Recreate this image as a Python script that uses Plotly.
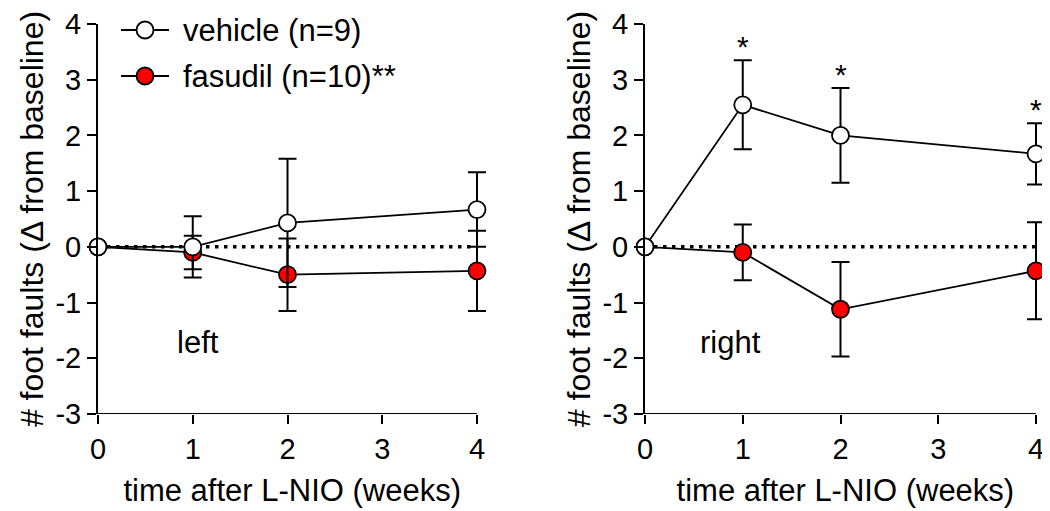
import plotly.graph_objects as go

weeks = [0, 1, 2, 4]
x_ticks = [0, 1, 2, 3, 4]
y_ticks = [-3, -2, -1, 0, 1, 2, 3, 4]
y_tick_labels = ["-3", "-2", "-1", "0", "1", "2", "3", "4"]

left_vehicle = [0, 0.0, 0.43, 0.67]
left_vehicle_err = [0, 0.55, 1.15, 0.67]
left_fasudil = [0, -0.1, -0.5, -0.43]
left_fasudil_err = [0, 0.3, 0.65, 0.72]

right_vehicle = [0, 2.55, 2.0, 1.67]
right_vehicle_err = [0, 0.8, 0.85, 0.55]
right_fasudil = [0, -0.1, -1.12, -0.43]
right_fasudil_err = [0, 0.5, 0.85, 0.87]

star_weeks = [1, 2, 4]

series_names = ["vehicle (n=9)", "fasudil (n=10)**"]
series_colors = ["white", "#ff0000"]

FONT = "Liberation Sans, Arial, sans-serif"
XMAX = 4.1
W, H = 1050, 511
OFF = 8  # page body margin

def px(X):
    return (X - OFF) / W

def py(Y):
    return 1 - (Y - OFF) / H

fig = go.Figure()

def add(x, y, err, color, name, xa, ya):
    fig.add_trace(go.Scatter(
        x=x, y=y, mode="lines+markers", name=name, xaxis=xa, yaxis=ya,
        showlegend=False, cliponaxis=False,
        line=dict(color="black", width=1.8),
        marker=dict(size=17, color=color, line=dict(color="black", width=1.8)),
        error_y=dict(type="data", array=err, visible=True, color="black",
                     thickness=2, width=9),
    ))

add(weeks, left_fasudil, left_fasudil_err, series_colors[1], series_names[1], "x", "y")
add(weeks, left_vehicle, left_vehicle_err, series_colors[0], series_names[0], "x", "y")
add(weeks, right_fasudil, right_fasudil_err, series_colors[1], series_names[1], "x2", "y2")
add(weeks, right_vehicle, right_vehicle_err, series_colors[0], series_names[0], "x2", "y2")

tick_common = dict(ticks="outside", ticklen=9, tickwidth=2, tickcolor="black",
                   showgrid=False, zeroline=False, automargin=False,
                   tickfont=dict(family=FONT, size=29, color="black"))
xaxis_common = dict(range=[0, XMAX], tickvals=x_ticks, showline=False,
                    title=dict(text="time after L-NIO (weeks)",
                               font=dict(family=FONT, size=31, color="black"), standoff=15),
                    **tick_common)
yaxis_common = dict(range=[-3, 4], tickvals=y_ticks, ticktext=y_tick_labels,
                    showline=True, linecolor="black", linewidth=2,
                    title=dict(text="# foot faults (\u0394 from baseline)",
                               font=dict(family=FONT, size=32, color="black"), standoff=2),
                    **tick_common)

y_dom = [py(414), py(24)]
fig.update_layout(
    width=W, height=H, paper_bgcolor="white", plot_bgcolor="white",
    margin=dict(l=0, r=0, t=0, b=0),
    font=dict(family=FONT, color="black"),
    xaxis=dict(domain=[px(98), px(98 + 379 * XMAX / 4)], anchor="y", **xaxis_common),
    yaxis=dict(domain=y_dom, anchor="x", **yaxis_common),
    xaxis2=dict(domain=[px(645), px(645 + 391 * XMAX / 4)], anchor="y2", **xaxis_common),
    yaxis2=dict(domain=y_dom, anchor="x2", **yaxis_common),
    showlegend=False,
)

for xr, yr in (("x", "y"), ("x2", "y2")):
    fig.add_shape(type="line", xref=xr, yref=yr, x0=0, x1=4, y0=0, y1=0,
                  line=dict(color="black", width=3.5, dash="3.5px,5.5px"), layer="below")
    fig.add_shape(type="line", xref=xr, yref=yr, x0=0, x1=4, y0=-3, y1=-3,
                  line=dict(color="black", width=2), layer="above")

# manual legend
for k, (name, color) in enumerate(zip(series_names, series_colors)):
    Y = 30 + 46 * k
    fig.add_shape(type="line", xref="paper", yref="paper", x0=px(121), x1=px(169),
                  y0=py(Y), y1=py(Y), line=dict(color="black", width=1.8))
    fig.add_shape(type="circle", xref="paper", yref="paper", xsizemode="pixel", ysizemode="pixel",
                  xanchor=px(145), yanchor=py(Y), x0=-8.5, x1=8.5, y0=-8.5, y1=8.5,
                  fillcolor=color, line=dict(color="black", width=1.8))
    fig.add_annotation(x=px(181), y=py(Y), xref="paper", yref="paper", text=name,
                       showarrow=False, xanchor="left", yanchor="middle",
                       font=dict(family=FONT, size=31, color="black"))

fig.add_annotation(x=1.06, y=-1.72, xref="x", yref="y", text="left", showarrow=False,
                   font=dict(family=FONT, size=31, color="black"))
fig.add_annotation(x=0.87, y=-1.72, xref="x2", yref="y2", text="right", showarrow=False,
                   font=dict(family=FONT, size=31, color="black"))

for w in star_weeks:
    i = weeks.index(w)
    top = right_vehicle[i] + right_vehicle_err[i]
    fig.add_annotation(x=w, y=top, xref="x2", yref="y2", text="*", showarrow=False,
                       yanchor="bottom", yshift=-5, font=dict(family=FONT, size=30, color="black"))

fig.write_html("out.html")
